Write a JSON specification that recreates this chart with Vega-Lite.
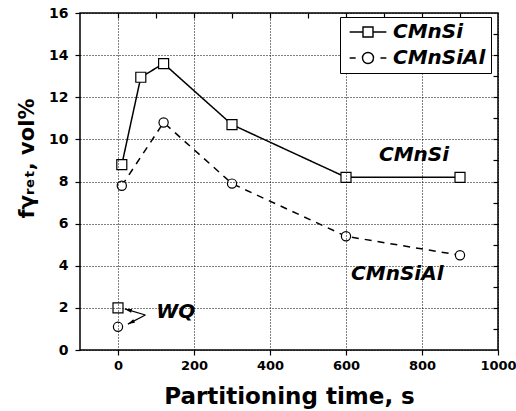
{
  "$schema": "https://vega.github.io/schema/vega-lite/v6.json",
  "width": 418,
  "height": 337,
  "autosize": {"type": "none"},
  "padding": {"left": 80, "top": 13, "right": 18, "bottom": 61},
  "background": "white",
  "config": {"view": {"stroke": "black", "strokeWidth": 1.5}, "font": "DejaVu Sans"},
  "datasets": {
    "main": [
      {"series": "CMnSi", "cond": "WQ", "time": 0, "frac": 2.0},
      {"series": "CMnSi", "cond": "P", "time": 10, "frac": 8.8},
      {"series": "CMnSi", "cond": "P", "time": 60, "frac": 12.95},
      {"series": "CMnSi", "cond": "P", "time": 120, "frac": 13.6},
      {"series": "CMnSi", "cond": "P", "time": 300, "frac": 10.7},
      {"series": "CMnSi", "cond": "P", "time": 600, "frac": 8.2},
      {"series": "CMnSi", "cond": "P", "time": 900, "frac": 8.2},
      {"series": "CMnSiAl", "cond": "WQ", "time": 0, "frac": 1.1},
      {"series": "CMnSiAl", "cond": "P", "time": 10, "frac": 7.8},
      {"series": "CMnSiAl", "cond": "P", "time": 120, "frac": 10.8},
      {"series": "CMnSiAl", "cond": "P", "time": 300, "frac": 7.9},
      {"series": "CMnSiAl", "cond": "P", "time": 600, "frac": 5.4},
      {"series": "CMnSiAl", "cond": "P", "time": 900, "frac": 4.5}
    ],
    "labels": [
      {"lx": 779, "ly": 9.26, "label": "CMnSi"},
      {"lx": 735, "ly": 3.61, "label": "CMnSiAl"},
      {"lx": 152, "ly": 1.82, "label": "WQ"}
    ],
    "arrows": [
      {"target": "CMnSi", "ax": 72, "ay": 1.66, "bx": 18, "by": 1.95},
      {"target": "CMnSiAl", "ax": 72, "ay": 1.66, "bx": 26, "by": 1.23}
    ]
  },
  "layer": [
    {
      "data": {"name": "main"},
      "transform": [{"filter": "datum.cond !== 'WQ' && datum.series === 'CMnSi'"}],
      "mark": {"type": "line", "color": "black", "strokeWidth": 1.5},
      "encoding": {
        "x": {
          "field": "time", "type": "quantitative",
          "scale": {"domain": [-100, 1000], "nice": false, "zero": false},
          "axis": {
            "orient": "bottom", "title": "Partitioning time, s",
            "values": [0, 200, 400, 600, 800, 1000],
            "format": "d",
            "domain": false, "zindex": 1,
            "tickColor": "black", "tickSize": 5, "tickWidth": 1.2,
            "labelFont": "DejaVu Sans", "labelFontSize": 13, "labelFontWeight": "bold", "labelColor": "black",
            "labelPadding": 4, "labelFlush": false, "labelOverlap": false,
            "grid": true, "gridColor": "black", "gridDash": [1, 2], "gridWidth": 1, "gridOpacity": 1,
            "titleFont": "DejaVu Sans", "titleFontSize": 23, "titleFontWeight": "bold", "titleColor": "black", "titlePadding": 13
          }
        },
        "y": {
          "field": "frac", "type": "quantitative",
          "scale": {"domain": [0, 16], "nice": false},
          "axis": {
            "orient": "left", "title": "fγᵣₑₜ, vol%",
            "values": [0, 2, 4, 6, 8, 10, 12, 14, 16],
            "domain": false, "zindex": 1,
            "tickColor": "black", "tickSize": 5, "tickWidth": 1.2,
            "labelFont": "DejaVu Sans", "labelFontSize": 14, "labelFontWeight": "bold", "labelColor": "black",
            "labelPadding": 7, "labelFlush": false, "labelOverlap": false,
            "grid": true, "gridColor": "black", "gridDash": [1, 2], "gridWidth": 1, "gridOpacity": 1,
            "titleFont": "DejaVu Sans", "titleFontSize": 21, "titleFontWeight": "bold", "titleColor": "black", "titlePadding": 11,
            "titleY": 145
          }
        },
        "strokeDash": {
          "field": "series", "type": "nominal",
          "scale": {"domain": ["CMnSi", "CMnSiAl"], "range": [[1, 0], [6, 6.85, 17.28, 6.85, 6, 12.85, 17.28, 1]]},
          "legend": {
            "orient": "none", "legendX": 260, "legendY": 4, "title": null,
            "strokeColor": "black", "fillColor": "white", "padding": 5, "cornerRadius": 0,
            "labelFont": "DejaVu Sans", "labelFontSize": 20, "labelFontWeight": "bold", "labelFontStyle": "italic", "labelColor": "black",
            "symbolSize": 100, "symbolStrokeWidth": 1.4, "symbolStrokeColor": "black", "symbolFillColor": "white",
            "symbolOffset": 13, "labelOffset": 15, "rowPadding": 6, "zindex": 2,
            "encode": {
              "symbols": {
                "update": {
                  "shape": {"signal": "datum.value === 'CMnSi' ? 'M-3.67,0H-1V-1H1V0H3.67H1V1H-1V0' : 'M-3.67,0H-1.1A1.1,1.1,0,0,1,1.1,0H3.67H1.1A1.1,1.1,0,0,1,-1.1,0'"},
                  "fill": {"value": "white"},
                  "stroke": {"value": "black"}
                }
              }
            }
          }
        }
      }
    },
    {
      "data": {"name": "main"},
      "transform": [{"filter": "datum.cond !== 'WQ' && datum.series === 'CMnSiAl'"}],
      "mark": {"type": "line", "color": "black", "strokeWidth": 1.5, "strokeDash": [7, 6]},
      "encoding": {
        "x": {"field": "time", "type": "quantitative", "axis": null},
        "y": {"field": "frac", "type": "quantitative", "axis": null}
      }
    },
    {
      "data": {"name": "main"},
      "transform": [{"filter": "datum.series === 'CMnSi'"}],
      "mark": {"type": "point", "shape": "square", "filled": true, "fill": "white", "stroke": "black", "strokeWidth": 1.2, "size": 100, "opacity": 1},
      "encoding": {
        "x": {"field": "time", "type": "quantitative", "axis": null},
        "y": {"field": "frac", "type": "quantitative", "axis": null}
      }
    },
    {
      "data": {"name": "main"},
      "transform": [{"filter": "datum.series === 'CMnSiAl'"}],
      "mark": {"type": "point", "shape": "circle", "filled": true, "fill": "white", "stroke": "black", "strokeWidth": 1.2, "size": 85, "opacity": 1},
      "encoding": {
        "x": {"field": "time", "type": "quantitative", "axis": null},
        "y": {"field": "frac", "type": "quantitative", "axis": null}
      }
    },
    {
      "data": {"name": "labels"},
      "mark": {"type": "text", "font": "DejaVu Sans", "fontSize": 20, "fontWeight": "bold", "fontStyle": "italic", "color": "black", "align": "center", "baseline": "middle"},
      "encoding": {
        "x": {"field": "lx", "type": "quantitative", "axis": null},
        "y": {"field": "ly", "type": "quantitative", "axis": null},
        "text": {"field": "label"}
      }
    },
    {
      "data": {"name": "arrows"},
      "mark": {"type": "rule", "color": "black", "strokeWidth": 1.2},
      "encoding": {
        "x": {"field": "ax", "type": "quantitative", "axis": null},
        "y": {"field": "ay", "type": "quantitative", "axis": null},
        "x2": {"field": "bx"},
        "y2": {"field": "by"}
      }
    },
    {
      "data": {"name": "arrows"},
      "transform": [{"filter": "datum.target === 'CMnSi'"}],
      "mark": {"type": "point", "shape": "M0,0L0.55,2L-0.55,2Z", "filled": true, "color": "black", "size": 49, "angle": 286, "opacity": 1},
      "encoding": {
        "x": {"field": "bx", "type": "quantitative", "axis": null},
        "y": {"field": "by", "type": "quantitative", "axis": null}
      }
    },
    {
      "data": {"name": "arrows"},
      "transform": [{"filter": "datum.target === 'CMnSiAl'"}],
      "mark": {"type": "point", "shape": "M0,0L0.55,2L-0.55,2Z", "filled": true, "color": "black", "size": 49, "angle": 243, "opacity": 1},
      "encoding": {
        "x": {"field": "bx", "type": "quantitative", "axis": null},
        "y": {"field": "by", "type": "quantitative", "axis": null}
      }
    },
    {
      "data": {"name": "main"},
      "mark": {"type": "point", "opacity": 0},
      "encoding": {
        "x": {
          "field": "time", "type": "quantitative",
          "axis": {
            "orient": "top", "title": null, "labels": false, "grid": false, "domain": false,
            "values": [0, 100, 200, 300, 400, 500, 600, 700, 800, 900],
            "tickColor": "black", "tickSize": -5, "tickWidth": 1.2
          }
        },
        "y": {
          "field": "frac", "type": "quantitative",
          "axis": {
            "orient": "right", "title": null, "labels": false, "grid": false, "domain": false,
            "values": [1, 2, 3, 4, 5, 6, 7, 8, 9, 10, 11, 12, 13, 14, 15],
            "tickColor": "black", "tickSize": -5, "tickWidth": 1.2
          }
        }
      }
    }
  ],
  "resolve": {"axis": {"x": "independent", "y": "independent"}}
}
